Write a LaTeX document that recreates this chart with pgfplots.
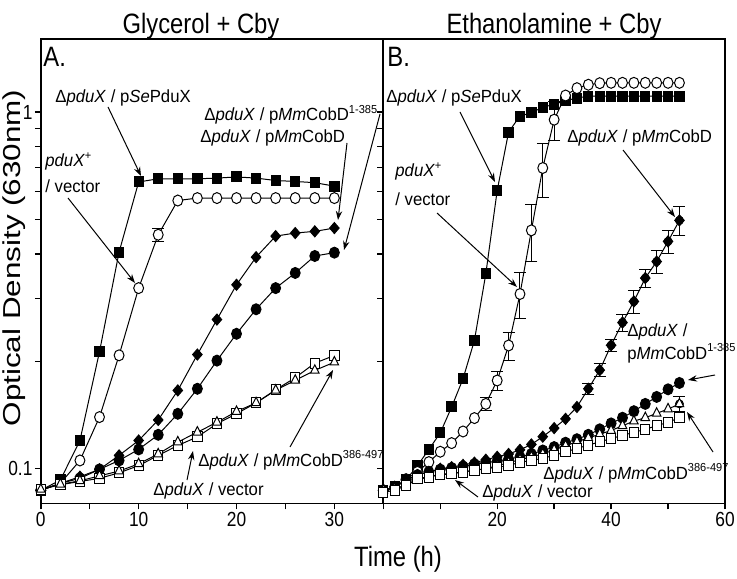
\documentclass[border=0pt]{standalone}
\usepackage{fontspec}
\setmainfont{Liberation Sans}[FakeStretch=0.85]
\newfontfamily\annfont{Liberation Sans}[FakeStretch=0.95]
\newfontfamily\ylabfont{Liberation Sans}
\usepackage{graphicx}
\usepackage{pgfplots}
\pgfplotsset{compat=1.18}
\usepackage{pgfplotstable}
\usetikzlibrary{arrows.meta}

% Left panel: Glycerol + Cby
\pgfplotstableread{
t   sep    cir    dia    fci    osq    tri
0   0.087  0.087  0.087  0.087  0.0875 0.0875
2   0.093  0.091  0.091  0.091  0.0902 0.0905
4   0.120  0.1055 0.095  0.094  0.0921 0.0925
6   0.213  0.1396 0.0996 0.0996 0.094  0.0955
8   0.405  0.208  0.109  0.1055 0.0974 0.0985
10  0.637  0.321  0.120  0.1133 0.102  0.1032
12  0.650  0.453  0.137  0.1245 0.109  0.110
14  0.650  0.565  0.1658 0.1426 0.1162 0.1188
16  0.650  0.574  0.209  0.1676 0.1228 0.1266
18  0.653  0.574  0.262  0.201  0.1337 0.135
20  0.658  0.574  0.328  0.239  0.1426 0.1447
22  0.653  0.574  0.392  0.280  0.153  0.153
24  0.643  0.574  0.449  0.321  0.1665 0.166
26  0.639  0.574  0.458  0.354  0.180  0.177
28  0.634  0.574  0.463  0.395  0.1977 0.1887
30  0.620  0.574  0.473  0.4035 0.2078 0.199
}\leftdata

% Right panel: Ethanolamine + Cby
\pgfplotstableread{
t   sep    cir    dia    fci    osq    tri
0   0.087  0.087  0.087  0.087  0.086  0.087
2   0.089  0.088  0.089  0.089  0.0869 0.088
4   0.093  0.0935 0.093  0.093  0.0898 0.090
6   0.102  0.098  0.096  0.096  0.094  0.093
8   0.1133 0.1044 0.098  0.098  0.0948 0.095
10  0.126  0.1116 0.100  0.0995 0.0962 0.0965
12  0.149  0.118  0.101  0.1005 0.0968 0.097
14  0.1788 0.1272 0.1025 0.1015 0.0979 0.098
16  0.229  0.1387 0.104  0.103  0.099  0.099
18  0.352  0.152  0.106  0.104  0.100  0.100
20  0.603  0.1768 0.108  0.105  0.101  0.102
22  0.879  0.2216 0.110  0.1065 0.102  0.104
24  0.975  0.309  0.113  0.108  0.1044 0.106
26  0.995  0.466  0.117  0.110  0.1055 0.108
28  1.033  0.697  0.123  0.1125 0.107  0.110
30  1.050  0.952  0.130  0.115  0.109  0.113
32  1.078  1.113  0.138  0.1183 0.1115 0.116
34  1.094  1.167  0.149  0.121  0.114  0.119
36  1.109  1.193  0.1676 0.1245 0.1165 0.122
38  1.109  1.205  0.189  0.129  0.119  0.125
40  1.109  1.208  0.222  0.134  0.1215 0.128
42  1.109  1.208  0.257  0.139  0.124  0.132
44  1.109  1.208  0.2945 0.145  0.1265 0.136
46  1.109  1.208  0.3425 0.152  0.129  0.139
48  1.109  1.208  0.381  0.159  0.132  0.143
50  1.109  1.208  0.434  0.167  0.135  0.147
52  1.109  1.208  0.497  0.174  0.139  0.152
}\rightdata

\newcommand\sups[1]{\raisebox{0.85ex}{\fontsize{5.8}{6}\selectfont #1}}
\newcommand\dpx{Δ\textit{pduX}}

\pgfplotsset{
  sqf/.style={black, line width=0.5pt, mark=square*, mark size=2.5pt, mark options={solid, fill=black, xscale=0.93}},
  sqo/.style={black, line width=0.5pt, mark=square*, mark size=2.5pt, mark options={solid, fill=white, xscale=0.93}},
  cio/.style={black, line width=0.5pt, mark=*, mark size=2.75pt, mark options={solid, fill=white, xscale=0.9}},
  cif/.style={black, line width=0.5pt, mark=*, mark size=2.75pt, mark options={solid, fill=black, xscale=0.9}},
  dia/.style={black, line width=0.5pt, mark=diamond*, mark size=2.75pt, mark options={solid, fill=black, xscale=1.15}},
  tri/.style={black, line width=0.5pt, mark=triangle*, mark size=2.8pt, mark options={solid, fill=white, xscale=0.88}},
  errb/.style={only marks, mark=none, forget plot,
    error bars/.cd, y dir=both, y explicit,
    error bar style={line width=0.5pt, black},
    error mark options={rotate=90, black, line width=0.5pt, mark size=3pt}},
}

\begin{document}
\begin{tikzpicture}
\useasboundingbox (0,0) rectangle (368.5pt,289pt);

% ---------------- Left panel ----------------
\begin{semilogyaxis}[
  scale only axis, height=232pt, ymin=0.08, ymax=1.6,
  ytick={0.1,1}, minor ytick={0.2,0.3,0.4,0.5,0.6,0.7,0.8,0.9},
  tick align=outside, tick pos=left,
  major tick length=3pt, minor tick length=3pt,
  axis line style={line width=0.8pt},
  every tick/.style={black, line width=0.7pt},
  clip=false,
  /pgf/number format/assume math mode=true,
  tick label style={font=\fontsize{10.2}{12}\selectfont},
  xticklabel style={inner sep=1.5pt},
  yticklabel style={inner sep=1pt},
  at={(20.4pt,37.35pt)}, anchor=south west, width=171.25pt,
  xmin=0, xmax=35, xtick={0,10,20,30}, minor xtick={5,15,25},
  yticklabels={0.1,1}]
\addplot[errb] coordinates {(12,0.453) +- (0,0.02)};
\addplot[sqf] table[x=t,y=sep] {\leftdata};
\addplot[cio] table[x=t,y=cir] {\leftdata};
\addplot[dia] table[x=t,y=dia] {\leftdata};
\addplot[cif] table[x=t,y=fci] {\leftdata};
\addplot[sqo] table[x=t,y=osq] {\leftdata};
\addplot[tri] table[x=t,y=tri] {\leftdata};
\end{semilogyaxis}

% ---------------- Right panel ----------------
\begin{semilogyaxis}[
  scale only axis, height=232pt, ymin=0.08, ymax=1.6,
  ytick={0.1,1}, minor ytick={0.2,0.3,0.4,0.5,0.6,0.7,0.8,0.9},
  tick align=outside, tick pos=left,
  major tick length=3pt, minor tick length=3pt,
  axis line style={line width=0.8pt},
  every tick/.style={black, line width=0.7pt},
  clip=false,
  /pgf/number format/assume math mode=true,
  tick label style={font=\fontsize{10.2}{12}\selectfont},
  xticklabel style={inner sep=1.5pt},
  at={(191.65pt,37.35pt)}, anchor=south west, width=170.85pt,
  xmin=0, xmax=60, xtick={0,20,40,60}, xticklabels={{},20,40,60}, minor xtick={10,30,50},
  yticklabels={}]
\addplot[errb] coordinates {(18,0.152) +- (0,0.006) (20,0.1768) +- (0,0.011)
  (22,0.2216) +- (0,0.02) (24,0.309) +- (0,0.045) (26,0.466) +- (0,0.086)
  (28,0.697) +- (0,0.12) (30,0.952) +- (0,0.12)};
\addplot[errb] coordinates {(36,0.1676) +- (0,0.006) (38,0.189) +- (0,0.008)
  (40,0.222) +- (0,0.009) (42,0.257) +- (0,0.014) (44,0.2945) +- (0,0.022)
  (46,0.3425) +- (0,0.02) (48,0.381) +- (0,0.028) (50,0.434) +- (0,0.033)
  (52,0.497) +- (0,0.045)};
\addplot[errb] coordinates {(52,0.152) +- (0,0.007)};
\addplot[sqf] table[x=t,y=sep] {\rightdata};
\addplot[cio] table[x=t,y=cir] {\rightdata};
\addplot[dia] table[x=t,y=dia] {\rightdata};
\addplot[cif] table[x=t,y=fci] {\rightdata};
\addplot[tri] table[x=t,y=tri] {\rightdata};
\addplot[sqo] table[x=t,y=osq] {\rightdata};
\end{semilogyaxis}

% ---------------- Texts and arrows (pixel frame) ----------------
\begin{scope}[shift={(0pt,289pt)}, x=0.5pt, y=-0.5pt,
  every node/.style={inner sep=0pt},
  arr/.style={line width=0.5pt, -{Stealth[length=4.5pt,width=3.2pt]}}]
\node[anchor=base] at (201,34) {\fontsize{14}{16}\selectfont Glycerol + Cby};
\node[anchor=base] at (554,34) {\fontsize{14}{16}\selectfont Ethanolamine + Cby};
\node[anchor=base west] at (43,66.7) {\fontsize{14}{16}\selectfont A.};
\node[anchor=base west] at (387,66.7) {\fontsize{14}{16}\selectfont B.};
\node[anchor=base] at (398,566) {\fontsize{14}{16}\selectfont Time (h)};
\node[rotate=90, anchor=base] at (21,258) {\scalebox{1}[0.78]{\ylabfont\fontsize{15.7}{18}\selectfont Optical Density (630nm)}};

\begin{scope}[font=\annfont\fontsize{8.8}{10}\selectfont]
% left
\node[anchor=base west] at (55,103) {\dpx{} / p\textit{Se}PduX};
\draw[arr] (108,107) -- (141,176);
\node[anchor=base west] at (45,167) {\textit{pduX}\sups{+}};
\node[anchor=base west] at (45,193) {/ vector};
\draw[arr] (68,198) -- (135,283);
\node[anchor=base west] at (204,121) {\dpx{} / p\textit{Mm}CobD\sups{1-385}};
\draw[arr] (380,114) -- (344,250);
\node[anchor=base west] at (200,143) {\dpx{} / p\textit{Mm}CobD};
\draw[arr] (347,143) -- (338,220);
\node[anchor=base west] at (198,466) {\dpx{} / p\textit{Mm}CobD\sups{386-497}};
\draw[arr] (290,447) -- (333,370);
\node[anchor=base west] at (153,495) {\dpx{} / vector};
\draw[arr] (187,480) -- (193,451);
% right
\node[anchor=base west] at (386,103) {\dpx{} / p\textit{Se}PduX};
\draw[arr] (460,112) -- (495,182);
\node[anchor=base west] at (395,177) {\textit{pduX}\sups{+}};
\node[anchor=base west] at (395,206) {/ vector};
\draw[arr] (437,213) -- (517,287);
\node[anchor=base west] at (567,143) {\dpx{} / p\textit{Mm}CobD};
\draw[arr] (623,150) -- (675,217);
\node[anchor=base west] at (627,336) {\dpx{} /};
\node[anchor=base west] at (627,359) {p\textit{Mm}CobD\sups{1-385}};
\draw[arr] (715,375) -- (688,380);
\node[anchor=base west] at (543,479) {\dpx{} / p\textit{Mm}CobD\sups{386-497}};
\draw[arr] (713,452) -- (687,412);
\node[anchor=base west] at (482,497) {\dpx{} / vector};
\draw[arr] (478,497) -- (455,480);
\end{scope}
\end{scope}
\end{tikzpicture}
\end{document}
